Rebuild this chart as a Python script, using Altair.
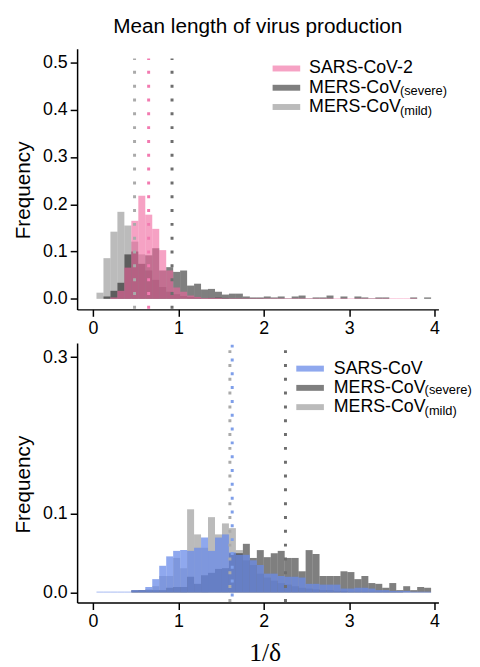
import altair as alt
import numpy as np
import pandas as pd

# ---- data -------------------------------------------------------------
# histogram bins of 1/delta (48 bins shared by both panels)
bin_edges = np.round(np.linspace(0.04, 3.96, 49), 4)

top_names = ["SARS-CoV-2", "MERS-CoV(severe)", "MERS-CoV(mild)"]
bot_names = ["SARS-CoV", "MERS-CoV(severe)", "MERS-CoV(mild)"]

top_sars2 = [0, 0, 0.003, 0.017, 0.066, 0.165, 0.218, 0.178, 0.148, 0.103,
             0.060, 0.024, 0.015, 0.007, 0.004, 0.002, 0.002, 0.002, 0.001, 0.001,
             0.001, 0.001, 0.001, 0.001, 0.001, 0.001, 0.001, 0.001, 0.001, 0.001,
             0.001, 0.001, 0.001, 0.001, 0.001, 0.001, 0.001, 0.001, 0.001, 0.001,
             0.001, 0.001, 0.001, 0.001, 0.001, 0.001, 0, 0]
top_severe = [0, 0.005, 0.017, 0.034, 0.094, 0.100, 0.074, 0.092, 0.107, 0.060,
              0.067, 0.057, 0.060, 0.028, 0.032, 0.020, 0.021, 0.015, 0.009, 0.011,
              0.011, 0.005, 0.003, 0.003, 0.005, 0.003, 0.005, 0.001, 0.005, 0.007,
              0.001, 0.003, 0.003, 0.007, 0, 0.005, 0, 0.005, 0.003, 0.001,
              0.003, 0.003, 0, 0, 0, 0.003, 0, 0.003]
top_mild = [0.013, 0.086, 0.142, 0.184, 0.155, 0.121, 0.094, 0.060, 0.040, 0.025,
            0.015, 0.010, 0.006, 0.004, 0.003, 0.002, 0.002, 0.003, 0.002, 0.001,
            0.001, 0.001, 0.001, 0.001, 0, 0, 0, 0, 0, 0,
            0, 0, 0, 0, 0, 0, 0, 0, 0, 0,
            0, 0, 0, 0, 0, 0, 0, 0]

bot_sars = [0.001, 0.001, 0.001, 0.001, 0.001, 0.003, 0.003, 0.007, 0.017, 0.034,
            0.046, 0.053, 0.054, 0.053, 0.057, 0.070, 0.053, 0.070, 0.074, 0.051,
            0.048, 0.048, 0.041, 0.035, 0.024, 0.024, 0.021, 0.020, 0.020, 0.019,
            0.011, 0.011, 0.010, 0.010, 0.010, 0.005, 0.005, 0.006, 0.006, 0.005,
            0.003, 0.003, 0.002, 0.002, 0.002, 0.001, 0.001, 0.001]
bot_severe = [0, 0, 0, 0, 0, 0.003, 0.003, 0.003, 0.003, 0.003,
              0.006, 0.007, 0.007, 0.020, 0.011, 0.022, 0.025, 0.030, 0.031, 0.050,
              0.050, 0.062, 0.044, 0.054, 0.045, 0.050, 0.053, 0.044, 0.044, 0.027,
              0.054, 0.049, 0.021, 0.021, 0.021, 0.027, 0.026, 0.017, 0.021, 0.012,
              0.011, 0.006, 0.012, 0.003, 0.008, 0.003, 0.007, 0.006]
bot_mild = [0, 0, 0, 0, 0, 0.002, 0.003, 0.004, 0.008, 0.021,
            0.021, 0.044, 0.031, 0.106, 0.074, 0.057, 0.096, 0.074, 0.088, 0.082,
            0.054, 0.041, 0.035, 0.024, 0.019, 0.015, 0.012, 0.010, 0.008, 0.006,
            0.005, 0.004, 0.003, 0.003, 0.002, 0.002, 0.001, 0.001, 0.001, 0.001,
            0.001, 0.001, 0.001, 0.001, 0, 0, 0, 0]

# mean values (dotted lines)
top_means = [0.651, 0.925, 0.486]
bot_means = [1.630, 2.254, 1.603]

x_ticks = [0, 1, 2, 3, 4]
top_yticks = [0.0, 0.1, 0.2, 0.3, 0.4, 0.5]
bot_yticks = [0.0, 0.1, 0.3]

FONT = "Liberation Sans"
SWATCH = "M-2.33,-0.5H2.33V0.5H-2.33Z"


def bars_frame(names, series):
    rows = []
    for name, vals in zip(names, series):
        for i, v in enumerate(vals):
            rows.append({"x0": bin_edges[i], "x1": bin_edges[i + 1],
                         "freq": v, "series": name})
    return pd.DataFrame(rows)


def panel(names, series, means, fills, alphas, rule_cols, yticks, ydom,
          height, rule_top, rule_bots, leg_x, leg_y, leg_off, sub_x, sub_y,
          xtitle, title=None):
    bars = bars_frame(names, series)
    rules = pd.DataFrame({"x": means, "y0": rule_bots,
                          "y1": [rule_top] * 3, "col": rule_cols})
    subs = pd.DataFrame({"sub": ["(severe)", "(mild)"]})

    x_scale = alt.Scale(domain=[-0.187, 4.046], nice=False, zero=False)
    y_scale = alt.Scale(domain=ydom, nice=False, zero=False)
    x_axis = alt.Axis(values=x_ticks, format="d", title=xtitle,
                      titleFont="Liberation Serif", titleFontSize=26,
                      titlePadding=10, titleX=190)
    y_axis = alt.Axis(values=yticks, format=".1f", title="Frequency",
                      titleFontSize=21, titlePadding=9, titleY=143)
    X = alt.X("x0:Q", scale=x_scale, axis=x_axis)
    Y = alt.Y("freq:Q", scale=y_scale, axis=y_axis)
    op_expr = "datum.value === '%s' ? %s : %s" % (names[0], alphas[0],
                                                  alphas[1])
    color = alt.Color(
        "series:N",
        scale=alt.Scale(domain=names, range=fills),
        legend=alt.Legend(orient="none", legendX=leg_x, legendY=leg_y,
                          title=None, symbolType=SWATCH, symbolSize=144,
                          symbolStrokeWidth=0,
                          symbolOpacity={"expr": op_expr},
                          labelFontSize=18, labelOffset=leg_off,
                          rowPadding=1.5, padding=0, labelLimit=300,
                          labelExpr="split(datum.label, '(')[0]"))
    layers = []
    for k in [2, 1, 0]:
        name = names[k]
        layers.append(
            alt.Chart(bars).transform_filter(alt.datum.series == name)
            .mark_rect(opacity=alphas[k])
            .encode(x=X, x2="x1:Q", y=Y, y2=alt.datum(0), color=color))
    layers.append(
        alt.Chart(rules).mark_rule(strokeDash=[3, 11], strokeWidth=3,
                                   strokeCap="butt")
        .encode(x=alt.X("x:Q", scale=x_scale, axis=x_axis),
                y=alt.Y("y0:Q", scale=y_scale, axis=y_axis), y2="y1:Q",
                stroke=alt.Stroke("col:N", scale=None)))
    layers.append(
        alt.Chart(subs).mark_point(opacity=0)
        .encode(shape=alt.Shape(
            "sub:N", scale=alt.Scale(domain=["(severe)", "(mild)"],
                                     range=["circle", "circle"]),
            legend=alt.Legend(orient="none", legendX=sub_x, legendY=sub_y,
                              title=None, symbolSize=0, symbolOpacity=0,
                              symbolStrokeWidth=0, labelFontSize=13,
                              labelOffset=0, rowPadding=6.5, padding=0))))
    props = dict(width=366, height=height)
    if title is not None:
        props["title"] = alt.Title(title, fontSize=21, font=FONT,
                                   fontWeight="normal", color="black",
                                   offset=12, anchor="middle")
    return alt.layer(*layers).properties(**props)


top = panel(top_names, [top_sars2, top_severe, top_mild], top_means,
            ["#F0649D", "#000000", "#777777"], [0.6, 0.5, 0.5],
            ["#F27AB0", "#6E6E6E", "#AAAAAA"],
            top_yticks, [-0.0223, 0.5288], 264, 0.508,
            [-0.021, -0.021, -0.021],
            203, 11, 14, 314, 36, None,
            title="Mean length of virus production")
bottom = panel(bot_names, [bot_sars, bot_severe, bot_mild], bot_means,
               ["#6A8BE8", "#000000", "#777777"], [0.75, 0.5, 0.5],
               ["#7F9FEA", "#6E6E6E", "#AAAAAA"],
               bot_yticks, [-0.0129, 0.318], 263, 0.316,
               [-0.005, -0.012, -0.012],
               227, 17, 15, 339, 41.5, "1/δ")

chart = (
    alt.vconcat(top, bottom, spacing=6)
    .resolve_scale(color="independent", shape="independent")
    .resolve_legend(color="independent", shape="independent")
    .properties(padding={"left": 4, "top": 4, "right": 0, "bottom": 0})
    .configure_view(stroke=None)
    .configure_axis(domainColor="black", domainWidth=1.5, tickColor="black",
                    tickWidth=1.5, tickSize=7, labelPadding=3,
                    labelColor="black", labelFont=FONT, labelFontSize=18,
                    titleFont=FONT, titleFontWeight="normal",
                    titleColor="black", grid=False)
    .configure_legend(labelFont=FONT, labelColor="black")
)

chart.save("out.html", embed_options={"renderer": "svg", "actions": False})
